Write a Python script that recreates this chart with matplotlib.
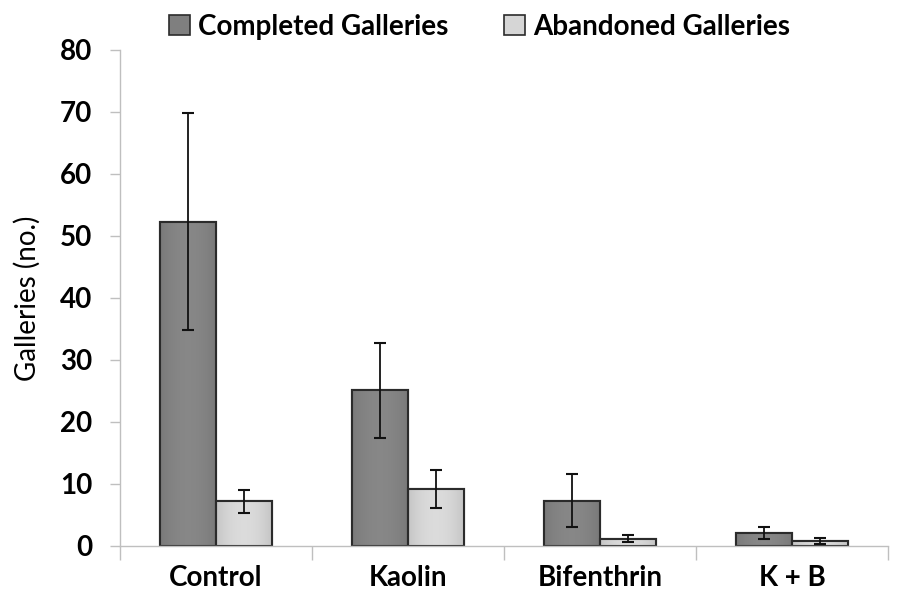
import numpy as np
import matplotlib.pyplot as plt
from matplotlib.patches import Patch

# Data
categories = ["Control", "Kaolin", "Bifenthrin", "K + B"]
completed = [52.3, 25.1, 7.3, 2.1]
completed_se = [17.5, 7.7, 4.3, 1.0]
abandoned = [7.2, 9.2, 1.2, 0.8]
abandoned_se = [1.9, 3.1, 0.5, 0.45]
series_names = ["Completed Galleries", "Abandoned Galleries"]

plt.rcParams['font.family'] = ['Lato', 'DejaVu Sans']

fig = plt.figure(figsize=(8.97, 5.97), dpi=100)
ax = fig.add_axes([120 / 897, (597 - 546) / 597, (888 - 120) / 897, (546 - 50) / 597])

x = np.arange(len(categories))
w = 0.29
dark_face, dark_edge = "#7f7f7f", "#2b2b2b"
light_face, light_edge = "#d6d6d6", "#2b2b2b"

b1 = ax.bar(x - w / 2, completed, w, color=dark_face, edgecolor=dark_edge, linewidth=1.5, zorder=2)
b2 = ax.bar(x + w / 2, abandoned, w, color=light_face, edgecolor=light_edge, linewidth=1.5, zorder=2)

# soft horizontal shading inside each bar
def shade(bars, base):
    for bar in bars:
        x0, y0 = bar.get_x(), bar.get_y()
        bw, bh = bar.get_width(), bar.get_height()
        t = np.linspace(0, 1, 64)
        g = 1 - 0.10 * (2 * t - 1) ** 2
        img = np.clip(np.outer(np.ones(2), g) * base, 0, 1)
        im = ax.imshow(np.dstack([img, img, img]), extent=[x0, x0 + bw, y0, y0 + bh],
                       aspect='auto', zorder=2.1, interpolation='bilinear')
        im.set_clip_path(bar)
        ax.bar(x0 + bw / 2, bh, bw, fill=False, edgecolor=bar.get_edgecolor(), linewidth=1.5, zorder=2.2)

shade(b1, 0.53)
shade(b2, 0.86)

ax.errorbar(x - w / 2, completed, yerr=completed_se, fmt='none', ecolor='#111111',
            elinewidth=1.3, capsize=4, capthick=1.5, zorder=3)
ax.errorbar(x + w / 2, abandoned, yerr=abandoned_se, fmt='none', ecolor='#111111',
            elinewidth=1.3, capsize=4, capthick=1.5, zorder=3)

ax.set_xlim(-0.5, len(categories) - 0.5)
ax.set_ylim(0, 80)
ax.set_yticks(np.arange(0, 81, 10))
ax.set_xticks(x)
ax.set_xticklabels(categories, fontsize=20, fontweight='bold')
ax.tick_params(axis='x', length=0, pad=14)
ax.tick_params(axis='y', labelsize=20, length=7, color='#bfbfbf', width=1, pad=13)
for lab in ax.get_yticklabels():
    lab.set_fontweight('bold')

# category separators below the baseline
ax.set_xticks(np.arange(-0.5, len(categories)), minor=True)
ax.tick_params(axis='x', which='minor', length=10, color='#bfbfbf', width=1)

for s in ['top', 'right']:
    ax.spines[s].set_visible(False)
for s in ['left', 'bottom']:
    ax.spines[s].set_color('#bfbfbf')
    ax.spines[s].set_linewidth(1)

ax.set_ylabel("Galleries (no.)", fontsize=20, labelpad=14)

handles = [Patch(facecolor=dark_face, edgecolor=dark_edge, linewidth=1.2),
           Patch(facecolor=light_face, edgecolor=light_edge, linewidth=1.2)]
fig.legend(handles, series_names, loc='center', bbox_to_anchor=(0.535, 0.955), ncol=2,
           frameon=False, prop={'size': 20, 'weight': 'bold'}, handlelength=0.75,
           handleheight=0.75, handletextpad=0.3, columnspacing=2.0)

fig.savefig("out.png", dpi=100, facecolor='white')
